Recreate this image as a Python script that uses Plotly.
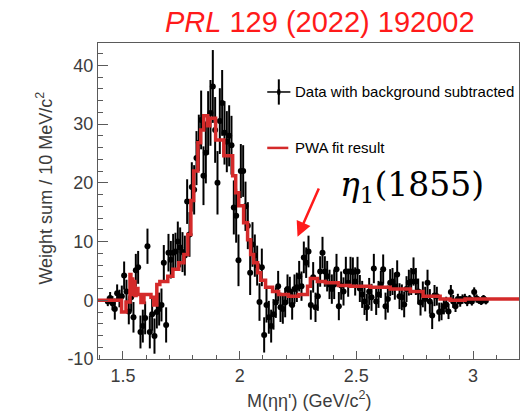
import numpy as np
import plotly.graph_objects as go

# 10 MeV/c^2 bins of M(eta eta'), first bin centre at 1.435 GeV/c^2
bin_start = 1.435
bin_width = 0.01

weight_sum = [
    -0.2, 0.4, -0.5, -1.5, 1.2, 0.3, 0.7, 4.2, 1.5, -1.9,
    0.5, -2.9, 5.1, 5.6, -5.4, -4.4, -3.0, 9.2, -5.4, -2.4,
    -6.1, -2.0, -1.5, -0.8, 6.4, -4.2, 8.1, 6.9, 8.1, 8.3,
    10.0, 9.0, 8.2, 7.6, 16.8, 11.2, 19.3, 18.8, 24.2, 26.8,
    30.7, 21.2, 25.1, 30.2, 31.9, 36.4, 29.0, 20.0, 30.5, 33.6,
    28.5, 27.0, 28.0, 26.4, 15.8, 14.4, 6.8, 22.0, 22.0, 16.0,
    12.7, 4.7, 9.5, 7.6, 5.9, -0.3, 5.6, -5.9, -0.8, -2.9,
    -4.4, -2.4, -0.4, 2.4, -1.2, -1.5, -0.4, 1.9, 1.5, -0.8,
    1.9, 2.2, 4.1, 2.4, 7.3, 6.4, 8.3, -0.8, 3.9, -1.2,
    0.7, 4.9, 8.1, 4.9, 4.1, 2.7, 1.9, 2.7, 5.3, -1.0,
    2.5, 1.5, 4.9, 3.0, 4.9, 4.8, 3.2, 4.9, 2.0, 1.0,
    -0.2, -1.2, 1.5, 0.5, 5.4, -0.2, 1.0, 2.7, 5.3, -1.0,
    0.2, 3.0, 3.2, 2.4, 4.4, 0.7, 0.5, -0.7, 1.9, 3.0,
    3.2, 4.9, 3.2, 1.5, -0.4, 1.0, 0.2, 3.0, -0.2, -2.6,
    0.8, 0.7, -2.0, -1.9, -1.0, -0.7, -1.9, 1.4, -0.2, -1.0,
    0.2, -0.2, 0.2, 0.3, -0.2, 0.2, -0.2, 1.4, 0.3, 0.0,
    -0.2, 0.3, -0.1,
]

weight_err = [
    0.8, 1.0, 1.2, 1.8, 1.5, 1.5, 1.8, 2.4, 2.0, 2.2,
    2.4, 2.6, 2.8, 2.8, 2.8, 2.8, 2.8, 3.0, 2.8, 2.8,
    3.0, 2.8, 2.8, 2.8, 3.0, 3.0, 3.2, 3.2, 3.2, 3.2,
    3.4, 3.4, 3.4, 3.4, 3.8, 3.8, 4.2, 4.2, 4.6, 4.8,
    5.0, 5.0, 5.2, 5.4, 5.6, 6.2, 5.6, 5.4, 5.6, 5.6,
    5.4, 5.2, 5.2, 5.0, 4.6, 4.6, 4.4, 4.6, 4.4, 4.2,
    4.0, 3.8, 3.8, 3.6, 3.4, 3.2, 3.2, 3.0, 3.0, 2.8,
    2.8, 2.6, 2.6, 2.6, 2.5, 2.5, 2.5, 2.5, 2.5, 2.5,
    2.5, 2.5, 2.6, 2.5, 2.7, 2.6, 2.7, 2.5, 2.6, 2.5,
    2.5, 2.6, 2.7, 2.6, 2.6, 2.5, 2.5, 2.5, 2.6, 2.4,
    2.4, 2.4, 2.5, 2.4, 2.5, 2.5, 2.4, 2.5, 2.3, 2.3,
    2.3, 2.3, 2.3, 2.3, 2.5, 2.3, 2.3, 2.3, 2.5, 2.3,
    2.3, 2.3, 2.3, 2.3, 2.4, 2.2, 2.2, 2.2, 2.2, 2.2,
    2.3, 2.4, 2.3, 2.2, 2.2, 2.2, 2.1, 2.2, 2.1, 2.3,
    1.8, 1.6, 1.6, 1.5, 1.4, 1.3, 1.3, 1.2, 1.1, 1.0,
    0.9, 0.9, 0.8, 0.8, 0.8, 0.7, 0.7, 0.8, 0.7, 0.6,
    0.6, 0.6, 0.6,
]

# PWA fit: step function, value holds from each edge to the next one
fit_edge = [
    1.393, 1.494, 1.513, 1.530, 1.534, 1.538, 1.542, 1.547, 1.551, 1.556,
    1.564, 1.577, 1.590,
    1.620, 1.632, 1.645, 1.658, 1.692, 1.714, 1.739, 1.761, 1.778, 1.791,
    1.803, 1.821, 1.833, 1.846, 1.863, 1.872, 1.897, 1.932, 1.970, 1.983,
    1.996, 2.017, 2.034, 2.047, 2.060, 2.077, 2.090, 2.111, 2.141, 2.167,
    2.209, 2.252, 2.291, 2.303, 2.333, 2.368, 2.423, 2.474, 2.560, 2.645,
    2.731, 2.786, 2.859, 2.902, 2.966, 3.197,
]
fit_value = [
    0.0, -2.0, -0.3, 4.4, 1.2, 3.6, 1.0, 3.2, 0.8, 2.0,
    1.0, -0.4, 1.0,
    0.5, -0.8, 2.7, 3.2, 4.1, 5.3, 6.4, 7.8, 11.2, 17.0,
    22.0, 26.8, 29.0, 31.4, 29.7, 31.0, 27.3, 24.6, 21.2, 18.3,
    16.1, 13.2, 10.3, 7.8, 6.4, 4.7, 3.4, 2.2, 1.5, 1.0,
    0.7, 1.0, 2.4, 3.7, 3.2, 3.0, 2.5, 2.4, 2.2, 1.9,
    1.5, 0.7, 0.2, 0.0, 0.2, 0.2,
]

x_ticks = [1.5, 2, 2.5, 3]
x_ticktext = ["1.5", "2", "2.5", "3"]
y_ticks = [-10, 0, 10, 20, 30, 40]
y_ticktext = ["-10", "0", "10", "20", "30", "40"]

mass = np.round(bin_start + bin_width * np.arange(len(weight_sum)), 3)

FONT = "Liberation Sans, Arial, sans-serif"
AXIS_GREY = "#5a5a5a"
TEXT_GREY = "#3c3c3c"
FIT_RED = "#d42a2a"

fig = go.Figure()

fig.add_trace(go.Scatter(
    x=mass, y=weight_sum,
    mode="markers",
    marker=dict(color="black", size=6),
    error_y=dict(type="data", array=weight_err, color="black",
                 thickness=2, width=0),
    showlegend=False,
))

fig.add_trace(go.Scatter(
    x=fit_edge, y=fit_value,
    mode="lines",
    line=dict(color=FIT_RED, width=3.5, shape="hv"),
    showlegend=False,
))

axis_common = dict(
    showgrid=False, zeroline=False,
    showline=True, linecolor=AXIS_GREY, linewidth=1, mirror=True,
    ticks="inside", tickcolor=AXIS_GREY, tickwidth=1,
    tickfont=dict(family=FONT, size=18, color=TEXT_GREY),
)

fig.update_xaxes(
    range=[1.393, 3.197],
    tickmode="array", tickvals=x_ticks, ticktext=x_ticktext,
    ticklen=8,
    minor=dict(ticks="inside", dtick=0.1, tick0=1.4, ticklen=4,
               tickcolor=AXIS_GREY),
    **axis_common,
)
fig.update_yaxes(
    range=[-10, 43.8],
    tickmode="array", tickvals=y_ticks, ticktext=y_ticktext,
    ticklen=10,
    minor=dict(ticks="inside", dtick=2, tick0=0, ticklen=5,
               tickcolor=AXIS_GREY),
    **axis_common,
)

# Hand-made legend: error-bar cross and red line sample
fig.add_shape(type="line", xref="paper", yref="paper",
              x0=0.402, x1=0.457, y0=0.845, y1=0.845,
              line=dict(color="black", width=1.5))
fig.add_shape(type="line", xref="paper", yref="paper",
              x0=0.4295, x1=0.4295, y0=0.805, y1=0.885,
              line=dict(color="black", width=2))
fig.add_shape(type="circle", xref="paper", yref="paper",
              x0=0.4255, x1=0.4335, y0=0.8345, y1=0.8555,
              fillcolor="black", line=dict(color="black", width=0))
fig.add_shape(type="line", xref="paper", yref="paper",
              x0=0.402, x1=0.452, y0=0.668, y1=0.668,
              line=dict(color=FIT_RED, width=2.5))

annotations = [
    dict(text="Data with background subtracted", x=0.464, y=0.845,
         xanchor="left", yanchor="middle",
         font=dict(family=FONT, size=15, color="black")),
    dict(text="PWA fit result", x=0.464, y=0.668,
         xanchor="left", yanchor="middle",
         font=dict(family=FONT, size=15, color="black")),
    dict(text="<i>PRL</i> 129 (2022) 192002", x=0.528, y=1.066,
         xanchor="center", yanchor="middle",
         font=dict(family=FONT, size=29, color="#ff1a1a")),
    dict(text="M(ηη') (GeV/c<sup>2</sup>)", x=0.5, y=-0.128,
         xanchor="center", yanchor="middle",
         font=dict(family=FONT, size=18, color=TEXT_GREY)),
    dict(text="Weight sum / 10 MeV/c<sup>2</sup>", x=-0.127, y=0.541,
         xanchor="center", yanchor="middle", textangle=-90,
         font=dict(family=FONT, size=18, color=TEXT_GREY)),
    dict(text="<i>η</i><sub>1</sub>(1855)", x=0.745, y=0.545,
         xanchor="center", yanchor="middle",
         font=dict(family="DejaVu Serif, Liberation Serif, serif",
                   size=33, color="black")),
]
for a in annotations:
    a.update(xref="paper", yref="paper", showarrow=False)
    fig.add_annotation(**a)

# Arrow pointing at the eta_1(1855) bump
fig.add_annotation(
    x=2.248, y=10.8, ax=2.342, ay=19.3,
    xref="x", yref="y", axref="x", ayref="y",
    text="", showarrow=True, arrowhead=2, arrowsize=1.2,
    arrowwidth=2.5, arrowcolor="#ff1a1a",
)

fig.update_layout(
    width=530, height=415,
    margin=dict(l=98, r=11, t=43, b=56),
    paper_bgcolor="white", plot_bgcolor="white",
    showlegend=False,
)

fig.write_html("out.html")
